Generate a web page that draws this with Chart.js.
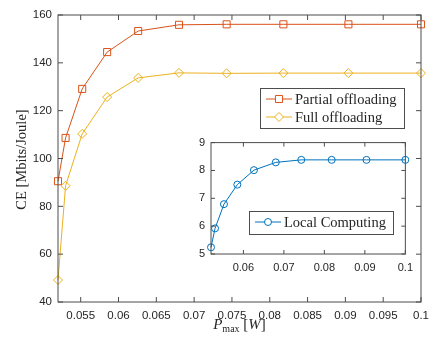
<!DOCTYPE html>
<html>
<head>
<meta charset="utf-8">
<script src="https://cdn.jsdelivr.net/npm/chart.js@4.4.1/dist/chart.umd.min.js"></script>
<style>
  html, body { margin: 0; padding: 0; background: #fff; }
  #wrap { position: relative; width: 436px; height: 337px; }
  #mainChart { position: absolute; left: 0; top: 0; }
  #insetChart { position: absolute; left: 180px; top: 130px; }
</style>
</head>
<body>
<div id="wrap">
  <canvas id="mainChart" width="436" height="337"></canvas>
  <canvas id="insetChart" width="240" height="145"></canvas>
</div>
<script>
// values
const pmax = [0.052, 0.053, 0.0552, 0.0585, 0.0626, 0.068, 0.0743, 0.0818, 0.0904, 0.1];
const partialCE = [90.5, 108.6, 129.1, 144.5, 153.3, 155.9, 156.1, 156.1, 156.1, 156.1];
const fullCE = [49.2, 88.6, 110.3, 125.7, 133.7, 135.8, 135.6, 135.7, 135.7, 135.7];
const localCE = [5.24, 5.92, 6.79, 7.49, 8.01, 8.29, 8.38, 8.38, 8.38, 8.38];

const mainXTicks = [0.055, 0.06, 0.065, 0.07, 0.075, 0.08, 0.085, 0.09, 0.095, 0.1];
const mainYTicks = [40, 60, 80, 100, 120, 140, 160];
const insetXTicks = [0.06, 0.07, 0.08, 0.09, 0.1];
const insetYTicks = [5, 6, 7, 8, 9];

const AXIS_COLOR = "#4d4d4d";
const TEXT_COLOR = "#262626";
const SERIF = "'Liberation Serif', 'DejaVu Serif', serif";
const SANS = "'Liberation Sans', Arial, sans-serif";

const pts = (ys) => pmax.map((x, i) => ({ x: x, y: ys[i] }));
const fmt = (v) => String(Number(v.toFixed(4)));

function series(label, ys, color, style, radius) {
  return {
    label: label,
    data: pts(ys),
    showLine: true,
    borderColor: color,
    backgroundColor: color,
    borderWidth: 1,
    pointStyle: style,
    pointRadius: radius,
    pointBorderColor: color,
    pointBackgroundColor: "rgba(255,255,255,0)",
    pointBorderWidth: 1,
    clip: false,
  };
}

function axisScale(min, max, ticks, fontSize, pad, fitKey, fitVal) {
  return {
    type: "linear",
    min: min,
    max: max,
    grid: { display: false, drawTicks: false },
    border: { display: false },
    afterBuildTicks: (s) => {
      s.ticks = ticks.map((v) => ({ value: v }));
    },
    afterFit: (s) => {
      s[fitKey] = fitVal;
    },
    ticks: {
      color: TEXT_COLOR,
      padding: pad,
      maxRotation: 0,
      autoSkip: false,
      font: { family: SANS, size: fontSize },
      callback: (v) => fmt(v),
    },
  };
}

// box round the plot with inward ticks on all four sides
function drawFrame(chart, len) {
  const { ctx, chartArea: a } = chart;
  const xs = chart.scales.x;
  const ys = chart.scales.y;
  ctx.save();
  ctx.strokeStyle = AXIS_COLOR;
  ctx.lineWidth = 1;
  ctx.strokeRect(a.left, a.top, a.right - a.left, a.bottom - a.top);
  ctx.beginPath();
  xs.ticks.forEach((t) => {
    const px = xs.getPixelForValue(t.value);
    ctx.moveTo(px, a.bottom);
    ctx.lineTo(px, a.bottom - len);
    ctx.moveTo(px, a.top);
    ctx.lineTo(px, a.top + len);
  });
  ys.ticks.forEach((t) => {
    const py = ys.getPixelForValue(t.value);
    ctx.moveTo(a.left, py);
    ctx.lineTo(a.left + len, py);
    ctx.moveTo(a.right, py);
    ctx.lineTo(a.right - len, py);
  });
  ctx.stroke();
  ctx.restore();
}

function drawLegend(chart, box, rows) {
  const ctx = chart.ctx;
  ctx.save();
  ctx.fillStyle = "#fff";
  ctx.fillRect(box.x, box.y, box.w, box.h);
  ctx.strokeStyle = AXIS_COLOR;
  ctx.lineWidth = 1;
  ctx.strokeRect(box.x + 0.5, box.y + 0.5, box.w, box.h);
  rows.forEach((r) => {
    const ds = chart.data.datasets[r.index];
    ctx.strokeStyle = ds.borderColor;
    ctx.lineWidth = 1;
    ctx.beginPath();
    ctx.moveTo(box.x + 6, r.y);
    ctx.lineTo(box.x + 32, r.y);
    ctx.stroke();
    ctx.fillStyle = "#fff";
    Chart.helpers.drawPoint(
      ctx,
      { pointStyle: ds.pointStyle, radius: ds.pointRadius, borderWidth: 1, rotation: 0 },
      box.x + 19,
      r.y
    );
    ctx.fillStyle = TEXT_COLOR;
    ctx.font = "14.5px " + SERIF;
    ctx.textBaseline = "middle";
    ctx.textAlign = "left";
    ctx.fillText(ds.label, box.x + 35, r.y + 1);
  });
  ctx.restore();
}

const mainPlugin = {
  id: "mainDecor",
  beforeDraw(chart) {
    const ctx = chart.ctx;
    ctx.save();
    ctx.fillStyle = "#fff";
    ctx.fillRect(0, 0, chart.width, chart.height);
    ctx.restore();
  },
  afterDraw(chart) {
    drawFrame(chart, 5);
    const ctx = chart.ctx;
    const a = chart.chartArea;
    ctx.save();
    ctx.fillStyle = TEXT_COLOR;
    // y title
    ctx.translate(22, (a.top + a.bottom) / 2 + 1);
    ctx.rotate(-Math.PI / 2);
    ctx.font = "14.5px " + SERIF;
    ctx.textAlign = "center";
    ctx.textBaseline = "middle";
    ctx.fillText("CE [Mbits/Joule]", 0, 0);
    ctx.restore();
    // x title: P_max [W]
    ctx.save();
    ctx.fillStyle = TEXT_COLOR;
    ctx.textBaseline = "alphabetic";
    ctx.textAlign = "left";
    const parts = [
      { t: "P", f: "italic 15px " + SERIF, dy: 0 },
      { t: "max", f: "10px " + SERIF, dy: 3 },
      { t: " [", f: "15px " + SERIF, dy: 0 },
      { t: "W", f: "italic 15px " + SERIF, dy: 0 },
      { t: "]", f: "15px " + SERIF, dy: 0 },
    ];
    let w = 0;
    parts.forEach((p) => {
      ctx.font = p.f;
      w += ctx.measureText(p.t).width;
    });
    let x = (a.left + a.right) / 2 - w / 2;
    parts.forEach((p) => {
      ctx.font = p.f;
      ctx.fillText(p.t, x, 329 + p.dy);
      x += ctx.measureText(p.t).width;
    });
    ctx.restore();
    drawLegend(chart, { x: 260, y: 88, w: 144, h: 40 }, [
      { index: 0, y: 99 },
      { index: 1, y: 117 },
    ]);
  },
};

const insetPlugin = {
  id: "insetDecor",
  beforeDraw(chart) {
    const a = chart.chartArea;
    const ctx = chart.ctx;
    ctx.save();
    ctx.fillStyle = "#fff";
    ctx.fillRect(a.left, a.top, a.right - a.left, a.bottom - a.top);
    ctx.restore();
  },
  afterDraw(chart) {
    drawFrame(chart, 4);
    drawLegend(chart, { x: 69, y: 81, w: 144, h: 23 }, [{ index: 0, y: 92 }]);
  },
};

new Chart(document.getElementById("mainChart"), {
  type: "scatter",
  data: {
    datasets: [
      series("Partial offloading", partialCE, "#D95319", "rect", 5),
      series("Full offloading", fullCE, "#EDB120", "rectRot", 4.5),
    ],
  },
  options: {
    responsive: false,
    animation: false,
    layout: { padding: { top: 15, right: 6, left: 0, bottom: 0 } },
    plugins: { legend: { display: false }, tooltip: { enabled: false } },
    scales: {
      x: axisScale(0.052, 0.1, mainXTicks, 11.5, 7, "height", 35),
      y: axisScale(40, 160, mainYTicks, 11.5, 6, "width", 58),
    },
  },
  plugins: [mainPlugin],
});

new Chart(document.getElementById("insetChart"), {
  type: "scatter",
  data: {
    datasets: [series("Local Computing", localCE, "#0072BD", "circle", 3.5)],
  },
  options: {
    responsive: false,
    animation: false,
    layout: { padding: { top: 8, right: 11, left: 0, bottom: 0 } },
    plugins: { legend: { display: false }, tooltip: { enabled: false } },
    scales: {
      x: axisScale(0.052, 0.1, insetXTicks, 11, 7, "height", 21),
      y: axisScale(5, 9, insetYTicks, 11, 6, "width", 31),
    },
  },
  plugins: [insetPlugin],
});
</script>
</body>
</html>
